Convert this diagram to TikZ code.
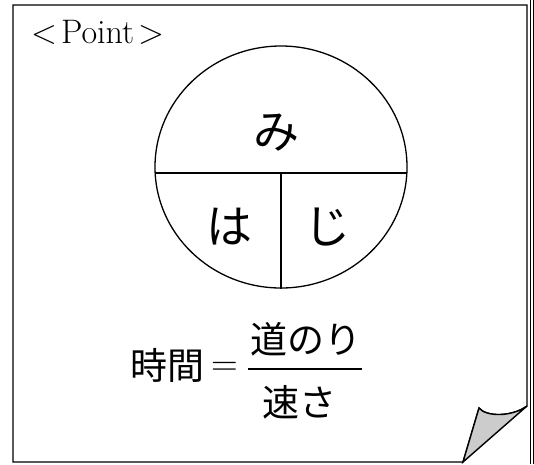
\documentclass[tikz,border=0pt]{standalone}
\usepackage{fontspec}
\usetikzlibrary{shapes.geometric}
\newfontfamily\jp{Noto Sans CJK JP}
\begin{document}
\begin{tikzpicture}[x=1pt,y=-1pt,
  frameline/.style={line width=1.4pt,draw=black,line join=miter},
  thin/.style={line width=1.3pt,draw=black},
  kana/.style={inner sep=0pt,font=\jp\fontsize{46}{50}\selectfont},
  eq/.style={inner sep=0pt,font=\jp\fontsize{37}{40}\selectfont}]
\useasboundingbox (0,0) rectangle (534,464);
% frame with curled corner
\draw[frameline,fill=white] (13,5) -- (527,5) -- (527,406)
  .. controls (512,417) and (486,417) .. (479,408) -- (463,462) -- (13,462) -- cycle;
\draw[frameline,fill=black!20] (463,462) -- (479,408)
  .. controls (486,417) and (512,417) .. (527,406) -- cycle;
% right double edge
\draw[line width=0.9pt] (530.6,0) -- (530.6,464);
\draw[line width=0.9pt] (533.3,0) -- (533.3,464);
% title
\node[inner sep=0pt,anchor=base west,font=\fontsize{34}{37}\selectfont] (title) at (31,43) {{<}\kern4pt Point\kern4pt{>}};
% circle
\node[ellipse,draw,line width=1.3pt,minimum width=252pt,minimum height=242pt,inner sep=0pt] (c) at (281,167) {};
\coordinate (hl) at (155.2,173);
\coordinate (hr) at (406.8,173);
\draw[thin] (hl) -- (hr);
\coordinate (vt) at (281,173);
\draw[thin] (vt) -- (c.south);
\node[kana] (mi) at (276,133) {み};
\node[kana] (ha) at (229,227) {は};
\node[kana] (ji) at (327,227) {じ};
% formula
\node[eq] (jikan) at (167,365) {時間};
\node[inner sep=0pt,font=\fontsize{37}{40}\selectfont] (eqs) at (225,369) {=};
\coordinate (bl) at (248,369);
\coordinate (br) at (362,369);
\draw[line width=1.3pt] (bl) -- (br);
\node[eq] (num) at (306,339.5) {道のり};
\node[eq] (den) at (299,402.5) {速さ};
\end{tikzpicture}
\end{document}
